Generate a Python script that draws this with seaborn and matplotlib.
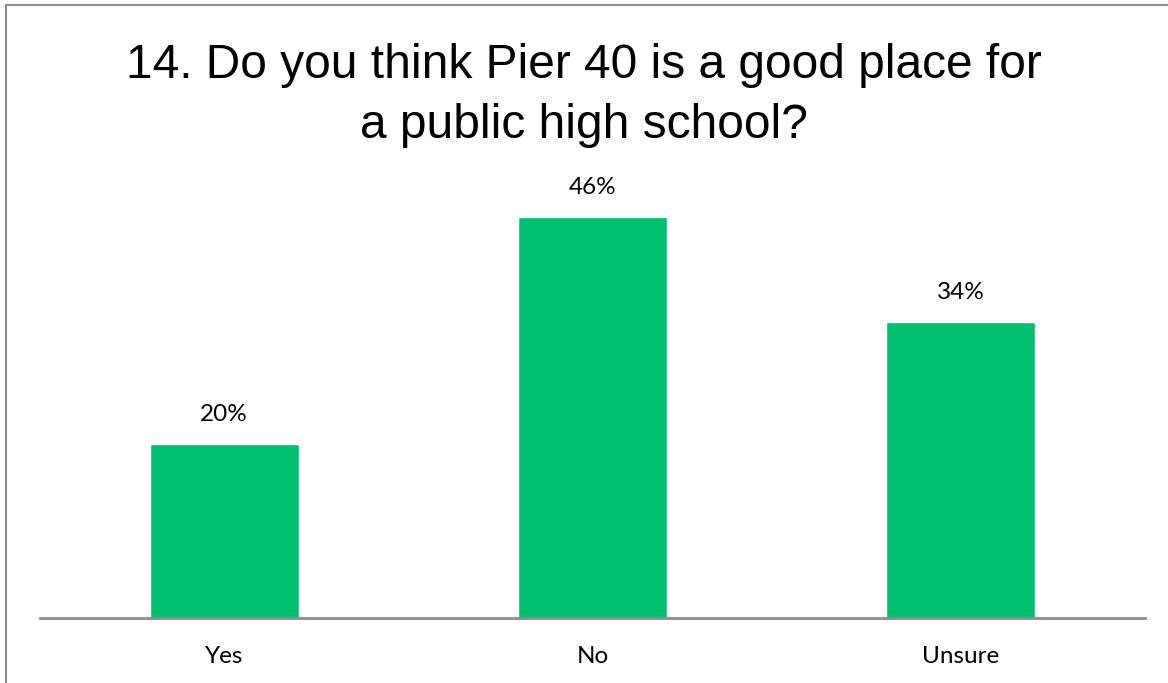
import matplotlib
matplotlib.use("Agg")
import matplotlib.pyplot as plt
import seaborn as sns
import pandas as pd
from matplotlib.lines import Line2D

answers = ["Yes", "No", "Unsure"]
shares = [20, 46, 34]
share_labels = ["20%", "46%", "34%"]

sns.set_style("white")
plt.rcParams['font.family'] = ['Liberation Sans', 'DejaVu Sans']
plt.rcParams['text.color'] = 'black'
plt.rcParams['xtick.color'] = 'black'

df = pd.DataFrame({"answer": answers, "share": shares})

fig = plt.figure(figsize=(11.68, 6.83), dpi=100)
# plot area: x 40..1145 px, baseline at y=618 px
ax = fig.add_axes([40 / 1168, (683 - 618) / 683, 1105 / 1168, 448 / 683])
sns.barplot(data=df, x="answer", y="share", color="#00c070", saturation=1,
            width=0.405, ax=ax)
ax.set_xlim(-0.5, 2.5)
ax.set_ylim(0, 448 / 8.72)

for i, (v, lab) in enumerate(zip(shares, share_labels)):
    ax.annotate(lab, (i, v), xytext=(0, 21), textcoords="offset points",
                ha="center", va="center", fontsize=17.5, color="black",
                family=["Lato", "DejaVu Sans"])

for s in ["top", "right", "left"]:
    ax.spines[s].set_visible(False)
ax.spines["bottom"].set_color("#8c8c8c")
ax.spines["bottom"].set_linewidth(2)
ax.set_yticks([])
ax.set_xlabel("")
ax.set_ylabel("")
ax.tick_params(axis="x", length=0, pad=20)
for t in ax.get_xticklabels():
    t.set_fontsize(17.5)
    t.set_family(["Lato", "DejaVu Sans"])

fig.text(0.5, 1 - 65 / 683, "14. Do you think Pier 40 is a good place for",
         ha="center", va="center", fontsize=34.5)
fig.text(0.5, 1 - 125 / 683, "a public high school?",
         ha="center", va="center", fontsize=34.5)

# outer chart border (only top and left visible in the crop)
fig.add_artist(Line2D([6 / 1168, 6 / 1168], [0, 1 - 5 / 683], transform=fig.transFigure,
                      color="#8c8c8c", lw=1.5))
fig.add_artist(Line2D([6 / 1168, 1], [1 - 5 / 683, 1 - 5 / 683], transform=fig.transFigure,
                      color="#8c8c8c", lw=1.5))

fig.savefig("out.png", dpi=100)
